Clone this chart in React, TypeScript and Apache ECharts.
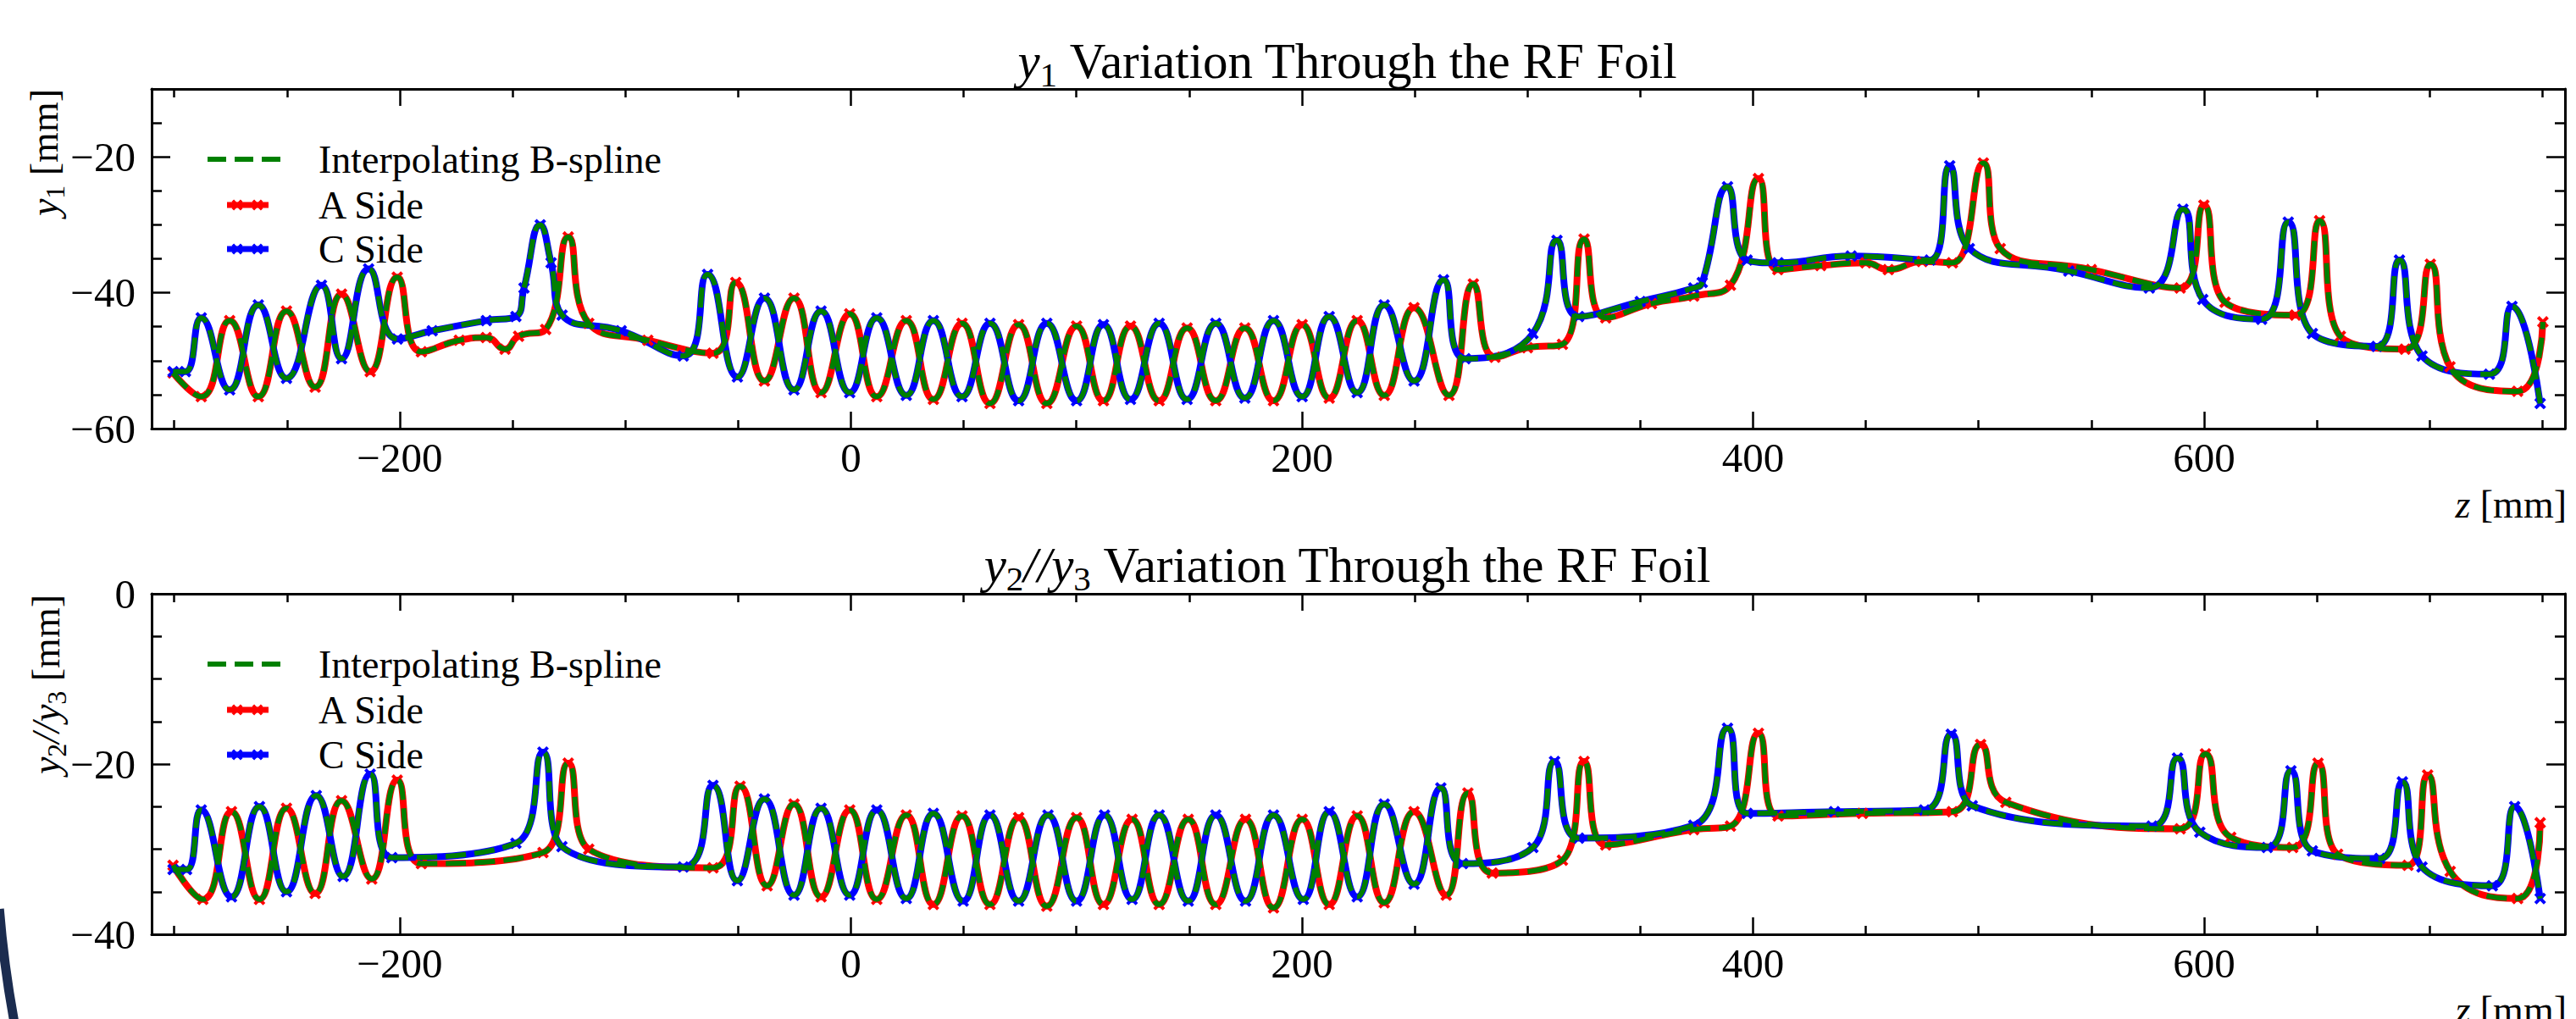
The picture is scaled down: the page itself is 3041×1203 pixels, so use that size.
import React, { useEffect, useRef } from "react";
import * as echarts from "echarts";

// ---------- axis ranges and ticks ----------
const zRange = [-310, 760];
const zMajorTicks = [-200, 0, 200, 400, 600];
const zMinorTicks = [-300, -250, -150, -100, -50, 50, 100, 150, 250, 300, 350, 450, 500, 550, 650, 700, 750];
const y1Range = [-60, -10];
const y1MajorTicks = [-60, -40, -20];
const y1MinorTicks = [-55, -50, -45, -35, -30, -25, -15];
const y23Range = [-40, 0];
const y23MajorTicks = [-40, -20, 0];
const y23MinorTicks = [-35, -30, -25, -15, -10, -5];

// ---------- data: [z (mm), y (mm)] ----------
const y1ASide = [
  [-300.5, -51.8], [-288, -55.3], [-275.4, -44.1], [-262.7, -55.3], [-250.2, -42.7], [-237.5, -53.9],
  [-225.8, -40.2], [-213.1, -51.6], [-201.1, -37.7], [-190.4, -48.7], [-173.6, -47.0], [-161.6, -46.6],
  [-153.3, -48.3], [-147.3, -46.4], [-135.3, -45.4], [-125.3, -31.8], [-116.2, -44.5], [-90, -47.0],
  [-61.1, -48.9], [-51, -38.5], [-38.3, -53.0], [-25.2, -40.8], [-13.2, -54.7], [-0.5, -43.1],
  [11.5, -55.3], [24.6, -44.1], [36.6, -55.7], [49.3, -44.5], [61.7, -56.3], [74.4, -44.7],
  [86.9, -56.3], [100.1, -44.9], [112, -55.9], [124, -44.9], [136.7, -55.9], [149.1, -45.2],
  [161.8, -55.9], [174.7, -45.2], [187.4, -55.9], [200.1, -44.7], [212.1, -55.5], [224.5, -44.1],
  [236.5, -55.1], [249.7, -42.2], [265.2, -55.1], [276, -38.7], [285.6, -49.5], [300, -48.1],
  [315.5, -47.6], [325.1, -32.1], [334.7, -43.7], [355, -41.6], [373.7, -40.5], [390, -38.9],
  [402.4, -23.2], [411, -36.6], [430, -36.0], [450, -35.6], [460, -36.6], [475, -35.4],
  [488.4, -35.6], [502.1, -20.9], [509.6, -33.5], [550, -36.6], [589.4, -39.3], [599.9, -27.1],
  [609.3, -41.4], [640.5, -43.3], [651.2, -29.4], [660.4, -46.4], [689.1, -48.3], [700.3, -35.8],
  [709, -50.9], [739, -54.5], [750.2, -44.3],
];
const y1CSide = [
  [-300.5, -51.6], [-295, -51.6], [-288, -43.7], [-275.4, -54.3], [-262.7, -41.8], [-250.2, -52.6],
  [-234.7, -38.9], [-225.8, -49.7], [-213.8, -36.5], [-201, -46.8], [-185.6, -45.6], [-161.6, -44.1],
  [-148.5, -43.5], [-144.9, -39.3], [-137.7, -30.0], [-132.9, -35.6], [-128, -43.3], [-101.8, -45.6],
  [-74.3, -49.3], [-63.5, -37.3],
  [-50.3, -52.4], [-38.3, -40.8], [-25.2, -54.3], [-13.2, -42.7], [-0.5, -54.7], [11.5, -43.7],
  [24.6, -55.1], [36.6, -44.1], [49.3, -55.3], [61.7, -44.5], [74.4, -55.9], [86.9, -44.5],
  [100.1, -55.9], [112, -44.7], [124, -55.7], [136.7, -44.5], [149.1, -55.7], [161.8, -44.5],
  [174.7, -55.5], [187.4, -44.1], [200.1, -55.3], [212.1, -43.5], [224.5, -54.7], [236.5, -41.8],
  [249.7, -53.0], [262.8, -38.1], [272.4, -49.7], [302.4, -46.0], [313.1, -32.3], [322.7, -43.5],
  [350, -41.3], [373.7, -39.3], [377.5, -38.5], [388.7, -24.4], [397.4, -35.2], [411.1, -35.6],
  [443.5, -34.6], [478.5, -35.2], [487.2, -21.3], [495.9, -33.5], [540, -36.8], [575.7, -39.3],
  [590.6, -27.7], [599.4, -41.0], [625.5, -43.9], [637.3, -29.6], [648, -46.0], [676.6, -47.9],
  [686.6, -35.2], [696.6, -49.3], [726.5, -52.0], [736.5, -42.0], [749, -56.3],
];
const y23ASide = [
  [-300.5, -31.9], [-287.3, -35.9], [-274.6, -25.6], [-262.2, -35.9], [-250.2, -25.2], [-237.5, -35.2],
  [-225.8, -24.3], [-212.4, -33.5], [-201.1, -21.9], [-190.4, -31.7], [-136.5, -30.4], [-125.3, -19.9],
  [-116.2, -30.0], [-61.1, -32.2], [-49.1, -22.6], [-37.1, -34.3], [-25.2, -24.7], [-13.2, -35.6],
  [-0.5, -25.4], [11.5, -35.9], [24.6, -26.0], [36.6, -36.5], [49.3, -26.1], [61.7, -36.5],
  [74.4, -26.3], [86.9, -36.7], [100.1, -26.3], [112, -36.5], [124.7, -26.5], [136.7, -36.5],
  [149.6, -26.5], [161.8, -36.5], [175, -26.5], [187.4, -36.9], [200.1, -26.5], [212.1, -36.5],
  [224.5, -26.1], [236.5, -36.3], [249.7, -25.6], [264, -35.4], [273.6, -23.4], [284.4, -32.8],
  [315.5, -31.3], [325.1, -19.7], [334.7, -29.5], [373.7, -27.7], [390, -27.3], [402.4, -16.4],
  [411.1, -26.1], [448.5, -25.8], [488.4, -25.6], [500.9, -17.7], [512.1, -24.5], [589.4, -27.6],
  [600.6, -18.8], [611.8, -28.6], [639.3, -29.8], [650.5, -19.9], [659.2, -30.6], [690.4, -31.9],
  [699.1, -21.3], [709.1, -32.6], [739, -35.8], [749, -26.9],
];
const y23CSide = [
  [-300.5, -32.4], [-294.5, -32.4], [-288, -25.4], [-274.6, -35.6], [-262.2, -25.0], [-250.2, -35.0],
  [-237, -23.7], [-225.1, -33.2], [-213.1, -21.2], [-203.5, -31.0], [-148.5, -29.3], [-136.5, -18.6],
  [-128.1, -29.7], [-74.3, -32.1], [-61.1, -22.5], [-50.3, -33.7], [-38.3, -24.1], [-25.2, -35.4],
  [-13.2, -25.2], [-0.5, -35.4], [11.5, -25.4], [24.6, -35.8], [36.6, -25.8], [49.8, -36.1],
  [61.7, -26.0], [74.4, -36.1], [87.4, -26.0], [100.1, -36.1], [112.5, -26.0], [124.7, -35.9],
  [136.7, -26.0], [149.6, -36.1], [161.8, -26.0], [175, -36.1], [187.4, -26.0], [200.6, -35.9],
  [212.1, -25.6], [224.5, -35.6], [236.5, -24.7], [249.7, -34.1], [261.6, -22.8], [271.2, -31.7],
  [302.4, -29.8], [312, -19.7], [322.7, -28.7], [373.7, -27.2], [388.7, -15.8], [397.4, -25.8],
  [436.1, -25.6], [476, -25.4], [487.9, -16.5], [497.2, -24.9], [576.9, -27.3], [588.2, -19.3],
  [598.1, -28.0], [628, -29.8], [638.5, -20.8], [648, -30.2], [677.9, -31.1], [687.9, -22.1],
  [696.6, -32.1], [727.8, -34.3], [737.7, -25.0], [749, -35.8],
];

// ---------- styling ----------
const FONT = '"Liberation Serif", "DejaVu Serif", serif';
const RED = "#ff0000";
const BLUE = "#0000ff";
const GREEN = "#008000";
const TICK = { color: "#000", width: 2.5 };
const FRAME = { color: "#000", width: 3 };
const X_SYMBOL = "path://M0,2L2,0L5,3L8,0L10,2L7,5L10,8L8,10L5,7L2,10L0,8L3,5Z";
const X_PTS = [[0, 2], [2, 0], [5, 3], [8, 0], [10, 2], [7, 5], [10, 8], [8, 10], [5, 7], [2, 10], [0, 8], [3, 5]];
const SMOOTH = 0.5;

const fmt = (v: number) => (v < 0 ? "\u2212" + Math.abs(v) : String(v));

function xAxesFor(grid: number) {
  const common: any = {
    type: "value", gridIndex: grid, min: zRange[0], max: zRange[1],
    splitLine: { show: false }, axisPointer: { show: false },
  };
  const major = { show: true, inside: true, length: 20, customValues: zMajorTicks, lineStyle: TICK };
  const minor = { show: true, inside: true, length: 10, customValues: zMinorTicks, lineStyle: TICK };
  return [
    {
      ...common, position: "bottom", axisLine: { show: true, onZero: false, lineStyle: FRAME }, axisTick: major,
      axisLabel: { show: true, customValues: zMajorTicks, formatter: fmt, fontFamily: FONT, fontSize: 49, color: "#000", margin: 10 },
    },
    { ...common, position: "bottom", axisLine: { show: false, onZero: false }, axisTick: minor, axisLabel: { show: false } },
    { ...common, position: "top", axisLine: { show: true, onZero: false, lineStyle: FRAME }, axisTick: major, axisLabel: { show: false } },
    { ...common, position: "top", axisLine: { show: false, onZero: false }, axisTick: minor, axisLabel: { show: false } },
  ];
}

function yAxesFor(grid: number, range: number[], majorT: number[], minorT: number[]) {
  const common: any = {
    type: "value", gridIndex: grid, min: range[0], max: range[1],
    splitLine: { show: false }, axisPointer: { show: false },
  };
  const major = { show: true, inside: true, length: 22, customValues: majorT, lineStyle: TICK };
  const minor = { show: true, inside: true, length: 12, customValues: minorT, lineStyle: TICK };
  return [
    {
      ...common, position: "left", axisLine: { show: true, onZero: false, lineStyle: FRAME }, axisTick: major,
      axisLabel: { show: true, customValues: majorT, formatter: fmt, fontFamily: FONT, fontSize: 49, color: "#000", margin: 19 },
    },
    { ...common, position: "left", axisLine: { show: false, onZero: false }, axisTick: minor, axisLabel: { show: false } },
    { ...common, position: "right", axisLine: { show: true, onZero: false, lineStyle: FRAME }, axisTick: major, axisLabel: { show: false } },
    { ...common, position: "right", axisLine: { show: false, onZero: false }, axisTick: minor, axisLabel: { show: false } },
  ];
}

function sideSeries(name: string, data: number[][], color: string, axisIdx: number) {
  return {
    type: "line", name, data, xAxisIndex: axisIdx, yAxisIndex: axisIdx,
    smooth: SMOOTH, symbol: X_SYMBOL, symbolSize: 14, showSymbol: true, showAllSymbol: true,
    lineStyle: { color, width: 8 }, itemStyle: { color }, z: 2, silent: true,
  };
}

function splineSeries(data: number[][], axisIdx: number) {
  return {
    type: "line", name: "Interpolating B-spline", data, xAxisIndex: axisIdx, yAxisIndex: axisIdx,
    smooth: SMOOTH, symbol: "none", showSymbol: false,
    lineStyle: { color: GREEN, width: 6, type: [24, 10], cap: "butt" }, z: 3, silent: true,
  };
}

function rich(fs: number) {
  return {
    i: { fontStyle: "italic", fontFamily: FONT, fontSize: fs, lineHeight: fs * 1.25, fill: "#000" },
    s: { fontFamily: FONT, fontSize: Math.round(fs * 0.7), lineHeight: Math.round(fs * 0.7), verticalAlign: "bottom", fill: "#000" },
  };
}

function richText(text: string, fs: number, x: number, y: number, align: string, rotation = 0) {
  return {
    type: "text", x, y, rotation, z: 20, silent: true,
    style: {
      text, fontFamily: FONT, fontSize: fs, lineHeight: fs * 1.25, fill: "#000",
      align, verticalAlign: "middle", rich: rich(fs),
    },
  };
}

function xMark(cx: number, cy: number, color: string, size: number) {
  const k = size / 10;
  return {
    type: "polygon", z: 21, silent: true,
    shape: { points: X_PTS.map(([px, py]) => [cx - size / 2 + px * k, cy - size / 2 + py * k]) },
    style: { fill: color },
  };
}

function legendFor(ys: number[]) {
  const txt = (t: string, y: number) => ({
    type: "text", x: 376, y, z: 20, silent: true,
    style: { text: t, fontFamily: FONT, fontSize: 46, fill: "#000", align: "left", verticalAlign: "middle" },
  });
  return [
    { type: "line", z: 20, silent: true, shape: { x1: 245, y1: ys[0], x2: 338, y2: ys[0] }, style: { stroke: GREEN, lineWidth: 6, lineDash: [22, 10] } },
    txt("Interpolating B-spline", ys[0]),
    { type: "line", z: 20, silent: true, shape: { x1: 268, y1: ys[1], x2: 317, y2: ys[1] }, style: { stroke: RED, lineWidth: 7 } },
    xMark(280, ys[1], RED, 13),
    xMark(304, ys[1], RED, 13),
    txt("A Side", ys[1]),
    { type: "line", z: 20, silent: true, shape: { x1: 268, y1: ys[2], x2: 317, y2: ys[2] }, style: { stroke: BLUE, lineWidth: 7 } },
    xMark(280, ys[2], BLUE, 13),
    xMark(304, ys[2], BLUE, 13),
    txt("C Side", ys[2]),
  ];
}

export default function App() {
  const ref = useRef<HTMLDivElement>(null);
  useEffect(() => {
    if (!ref.current) return;
    const chart = echarts.init(ref.current, null, { renderer: "svg" });
    const option: any = {
      animation: false,
      backgroundColor: "#ffffff",
      textStyle: { fontFamily: FONT },
      grid: [
        { left: 179, top: 105, width: 2849, height: 401, outerBoundsMode: "none", containLabel: false },
        { left: 179, top: 701, width: 2849, height: 402, outerBoundsMode: "none", containLabel: false },
      ],
      xAxis: [...xAxesFor(0), ...xAxesFor(1)],
      yAxis: [
        ...yAxesFor(0, y1Range, y1MajorTicks, y1MinorTicks),
        ...yAxesFor(1, y23Range, y23MajorTicks, y23MinorTicks),
      ],
      series: [
        sideSeries("A Side", y1ASide, RED, 0),
        sideSeries("C Side", y1CSide, BLUE, 0),
        splineSeries(y1ASide, 0),
        splineSeries(y1CSide, 0),
        sideSeries("A Side", y23ASide, RED, 4),
        sideSeries("C Side", y23CSide, BLUE, 4),
        splineSeries(y23ASide, 4),
        splineSeries(y23CSide, 4),
      ],
      graphic: {
        elements: [
          richText("{i|y}{s|1} Variation Through the RF Foil", 59, 1591, 72, "center"),
          richText("{i|y}{s|2}{i|//y}{s|3} Variation Through the RF Foil", 59, 1591, 667, "center"),
          richText("{i|y}{s|1} [mm]", 46, 52, 105, "right", Math.PI / 2),
          richText("{i|y}{s|2}{i|//y}{s|3} [mm]", 46, 54, 702, "right", Math.PI / 2),
          richText("{i|z} [mm]", 46, 3030, 595, "right"),
          richText("{i|z} [mm]", 46, 3030, 1192, "right"),
          ...legendFor([188, 242, 294]),
          ...legendFor([784, 838, 891]),
          {
            type: "arc", z: 1, silent: true,
            shape: { cx: 1309, cy: 968, r: 1314, startAngle: Math.PI - 0.24, endAngle: Math.PI - 0.08, clockwise: true },
            style: { stroke: "#1b2c4f", lineWidth: 11, fill: "none" },
          },
        ],
      },
    };
    chart.setOption(option);
    return () => chart.dispose();
  }, []);
  return (
    <div
      ref={ref}
      style={{ position: "fixed", left: 0, top: 0, width: "3041px", height: "1203px", background: "#fff" }}
    />
  );
}
